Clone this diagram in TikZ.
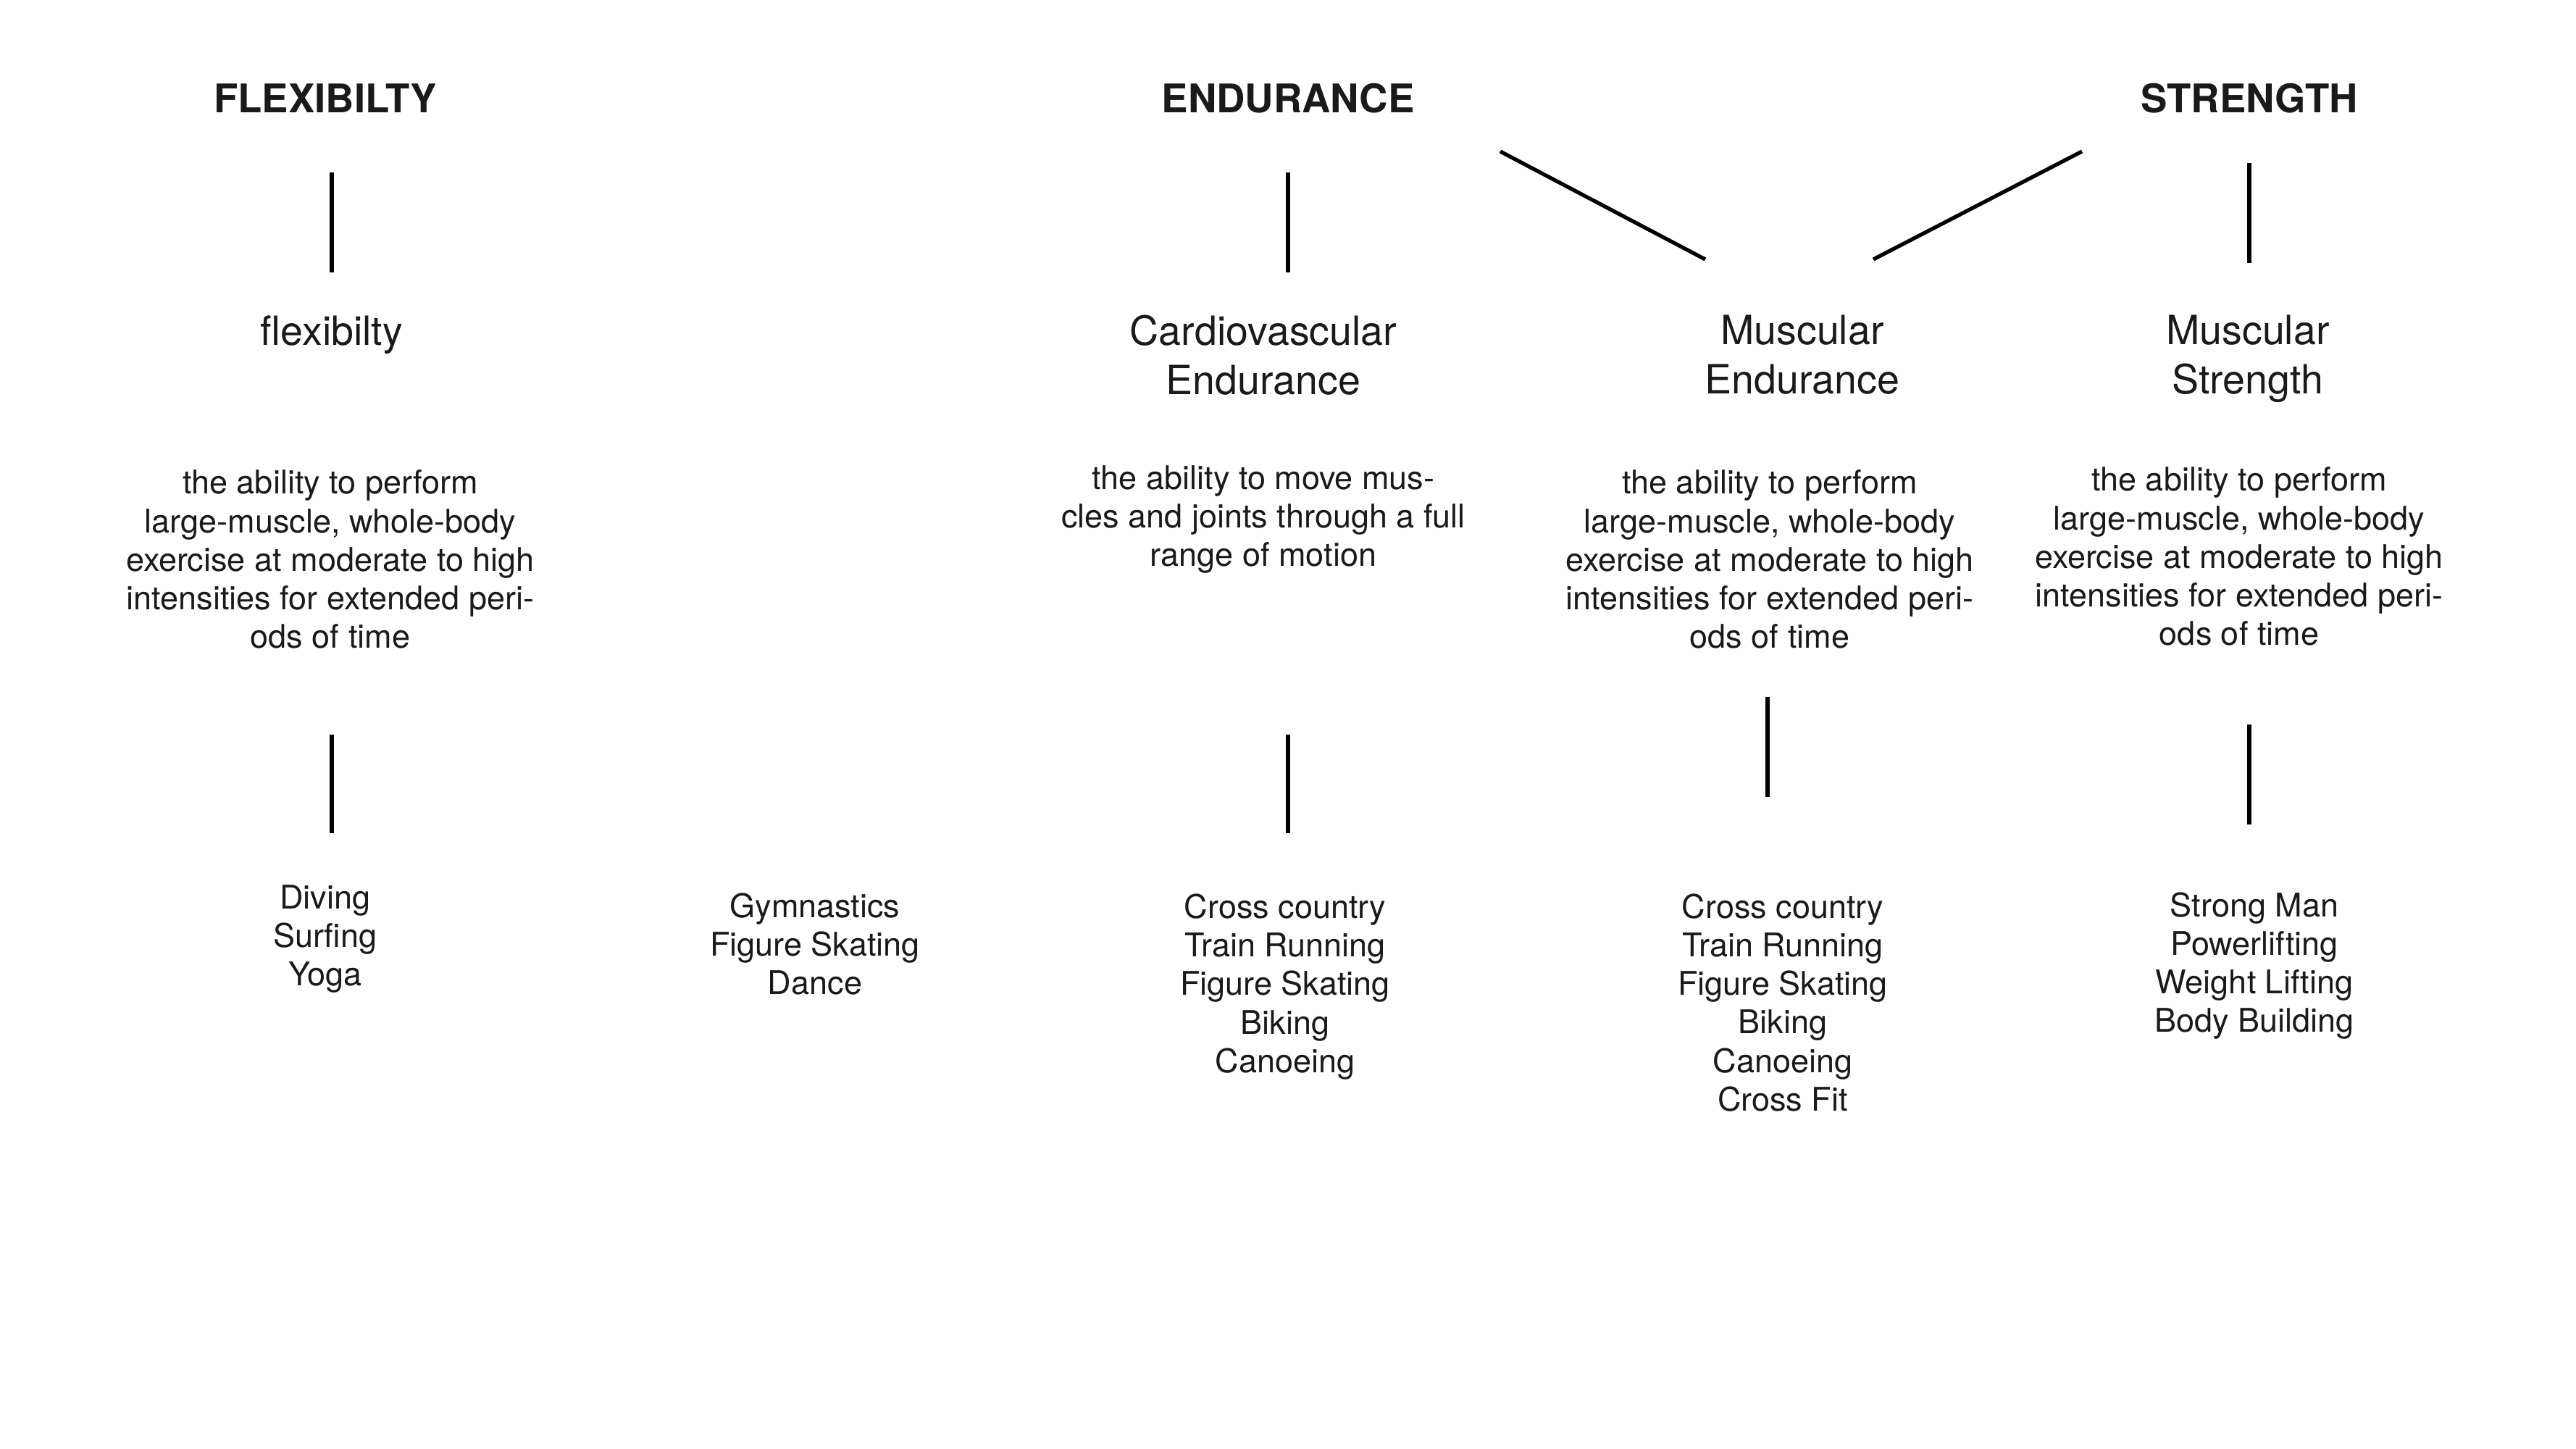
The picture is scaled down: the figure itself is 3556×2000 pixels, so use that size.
\documentclass[tikz,border=0pt]{standalone}
\usepackage{fontspec}
\setmainfont{TeX Gyre Heros}
\definecolor{ink}{HTML}{1A1A1A}
\tikzset{
  head/.style={text=ink, inner sep=0pt, font=\fontsize{15.5}{18}\selectfont\bfseries},
  title/.style={text=ink, inner sep=0pt, align=center, font=\fontsize{15.8}{19.4}\selectfont},
  body/.style={text=ink, inner sep=0pt, align=center, font=\fontsize{12.8}{15.1}\selectfont},
  link/.style={draw=black, line width=1.5pt}
}
\begin{document}
\begin{tikzpicture}[x=0.01cm, y=-0.01cm]
\useasboundingbox (0,0) rectangle (3556,2000);
\fill[white] (0,0) rectangle (3556,2000);

% headers
\node[head] (hF) at (449,136) {FLEXIBILTY};
\node[head] (hE) at (1778,136) {ENDURANCE};
\node[head] (hS) at (3105,136) {STRENGTH};

% titles
\node[title] (tF) at (458,462) {flexibilty};
\node[title] (tC) at (1744,490) {Cardiovascular\\Endurance};
\node[title] (tM) at (2488,490) {Muscular\\Endurance};
\node[title] (tS) at (3103,495) {Muscular\\Strength};

% descriptions
\node[body] (dF) at (456,772) {the ability to perform\\large-muscle, whole-body\\exercise at moderate to high\\intensities for extended peri-\\ods of time};
\node[body] (dC) at (1744,717) {the ability to move mus-\\cles and joints through a full\\range of motion};
\node[body] (dM) at (2443,772) {the ability to perform\\large-muscle, whole-body\\exercise at moderate to high\\intensities for extended peri-\\ods of time};
\node[body] (dS) at (3091,768) {the ability to perform\\large-muscle, whole-body\\exercise at moderate to high\\intensities for extended peri-\\ods of time};

% activities
\node[body] (aF) at (449,1296) {Diving\\Surfing\\Yoga};
\node[body] (aG) at (1125,1303) {Gymnastics\\Figure Skating\\Dance};
\node[body] (aC) at (1774,1362) {Cross country\\Train Running\\Figure Skating\\Biking\\Canoeing};
\node[body] (aM) at (2461,1384) {Cross country\\Train Running\\Figure Skating\\Biking\\Canoeing\\Cross Fit};
\node[body] (aS) at (3112,1333) {Strong Man\\Powerlifting\\Weight Lifting\\Body Building};

% connector end points
\coordinate (f1a) at (458,238);  \coordinate (f1b) at (458,376);
\coordinate (e1a) at (1778,238); \coordinate (e1b) at (1778,376);
\coordinate (m1a) at (2071,209); \coordinate (m1b) at (2354,358);
\coordinate (m2a) at (2874,209); \coordinate (m2b) at (2586,358);
\coordinate (s1a) at (3105,225); \coordinate (s1b) at (3105,363);
\coordinate (f2a) at (458,1014);  \coordinate (f2b) at (458,1150);
\coordinate (e2a) at (1778,1014); \coordinate (e2b) at (1778,1150);
\coordinate (m3a) at (2440,962);  \coordinate (m3b) at (2440,1100);
\coordinate (s2a) at (3105,1000); \coordinate (s2b) at (3105,1138);

\draw[link] (f1a) -- (f1b);
\draw[link] (e1a) -- (e1b);
\draw[link] (m1a) -- (m1b);
\draw[link] (m2a) -- (m2b);
\draw[link] (s1a) -- (s1b);
\draw[link] (f2a) -- (f2b);
\draw[link] (e2a) -- (e2b);
\draw[link] (m3a) -- (m3b);
\draw[link] (s2a) -- (s2b);
\end{tikzpicture}
\end{document}
